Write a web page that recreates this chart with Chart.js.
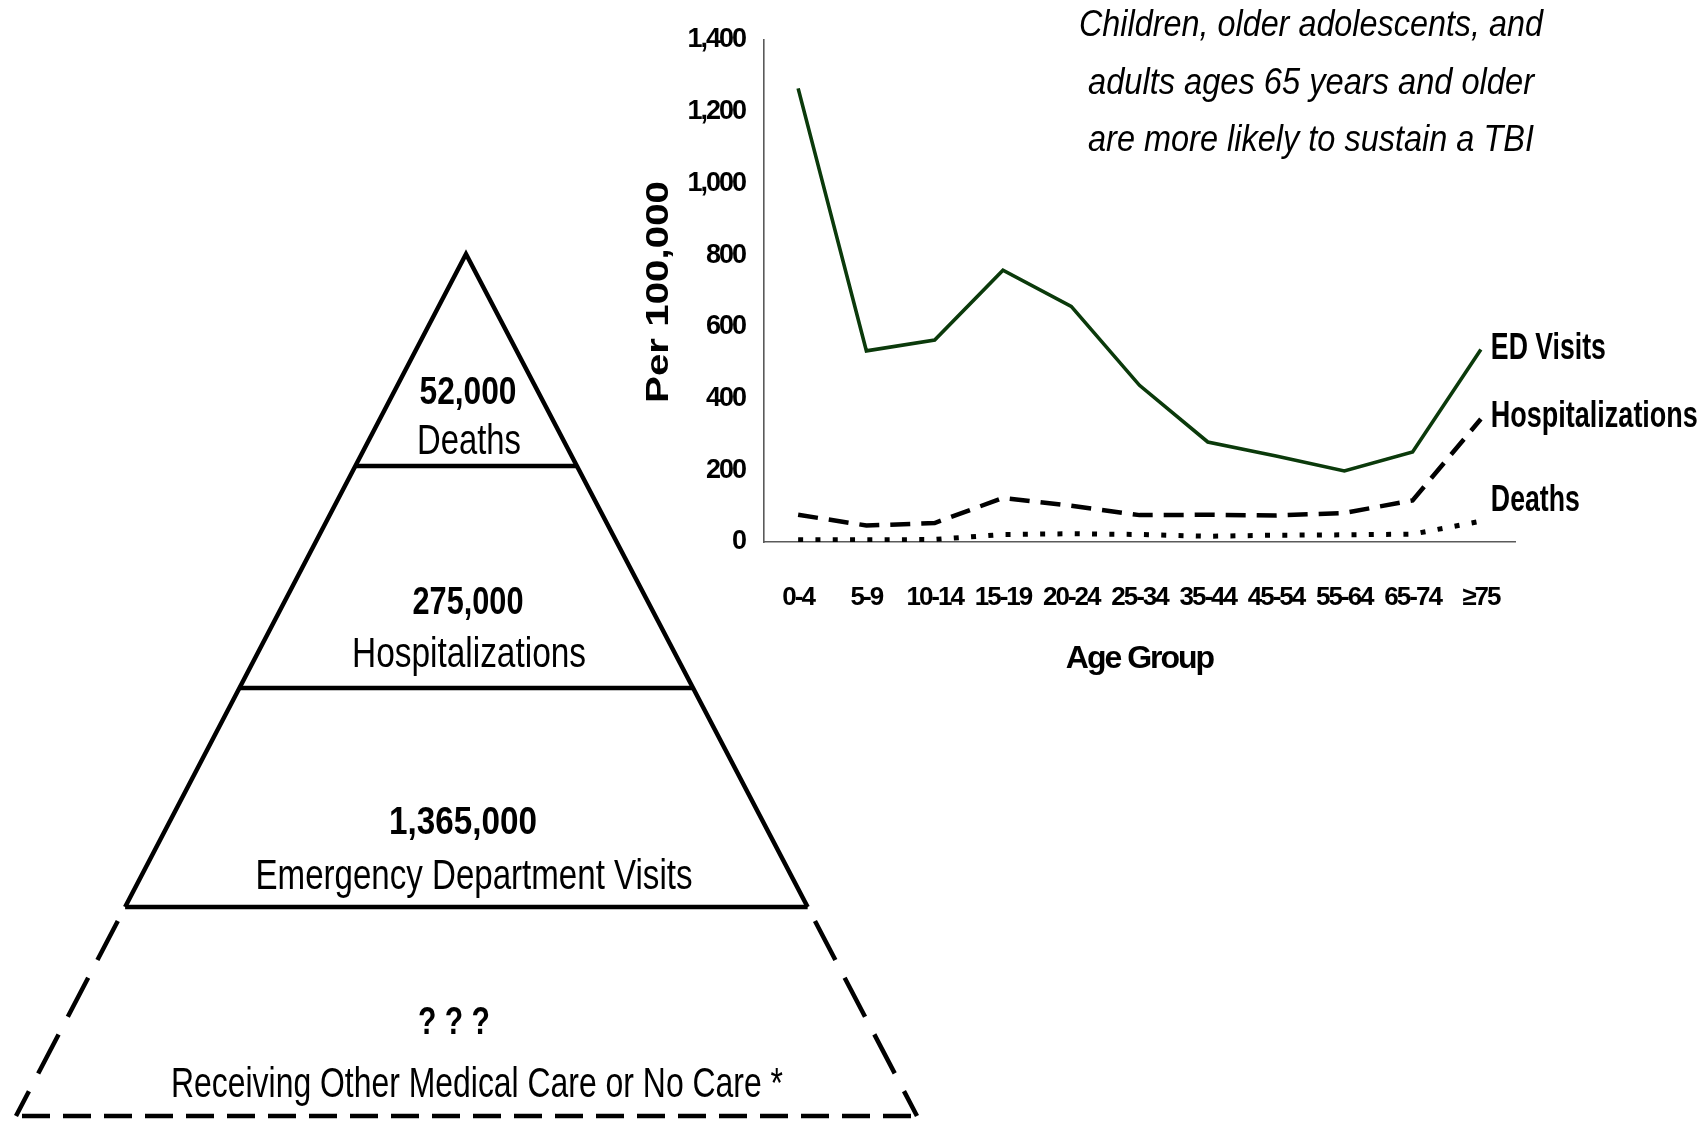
<!DOCTYPE html>
<html>
<head>
<meta charset="utf-8">
<title>Traumatic Brain Injury in the United States</title>
<script src="https://cdn.jsdelivr.net/npm/chart.js@4.4.1/dist/chart.umd.min.js"></script>
<style>
  html, body { margin: 0; padding: 0; background: #ffffff; }
  canvas { display: block; }
</style>
</head>
<body>
<canvas id="tbi" width="1707" height="1124"></canvas>
<script>
// Rates per 100,000 population by age group
const ageGroups = ['0-4', '5-9', '10-14', '15-19', '20-24', '25-34', '35-44', '45-54', '55-64', '65-74', '≥75'];
const edVisits = [1265, 533, 563, 758, 657, 437, 279, 240, 198, 251, 537];
const hospitalizations = [76, 46, 53, 123, 101, 75, 76, 74, 81, 116, 343];
const deaths = [6, 6, 7, 21, 23, 21, 16, 19, 20, 22, 58];
const seriesNames = ['ED Visits', 'Hospitalizations', 'Deaths'];

// Value axis
const yMin = 0;
const yMax = 1400;
const yStep = 200;
const yTitle = 'Per 100,000';
const xTitle = 'Age Group';

// Annual counts shown in the pyramid, top tier first
const tierCounts = ['52,000', '275,000', '1,365,000', '? ? ?'];
const tierNames = ['Deaths', 'Hospitalizations', 'Emergency Department Visits', 'Receiving Other Medical Care or No Care *'];

const noteLines = ['Children, older adolescents, and', 'adults ages 65 years and older', 'are more likely to sustain a TBI'];

const SANS = "'Liberation Sans', Arial, sans-serif";

// Draw a string centred (or left-aligned) on a point, squeezed horizontally to a given width
function fitText(ctx, s, x, y, font, width, align) {
  ctx.save();
  ctx.letterSpacing = '0px';
  ctx.font = font;
  const w = ctx.measureText(s).width;
  const sx = width ? width / w : 1;
  ctx.translate(x, y);
  ctx.scale(sx, 1);
  ctx.textAlign = align || 'center';
  ctx.textBaseline = 'middle';
  ctx.fillStyle = '#000';
  ctx.fillText(s, 0, 0);
  ctx.restore();
}

function drawPyramid(ctx) {
  const apex = { x: 466, y: 254 };
  const baseY = 1116, baseL = 16, baseR = 917;
  const cuts = [466, 688, 907];
  const xl = y => apex.x + (baseL - apex.x) * (y - apex.y) / (baseY - apex.y);
  const xr = y => apex.x + (baseR - apex.x) * (y - apex.y) / (baseY - apex.y);

  ctx.save();
  ctx.strokeStyle = '#000';
  ctx.lineWidth = 4.5;
  ctx.lineJoin = 'miter';
  ctx.lineCap = 'butt';

  // solid sides down to the emergency-department tier
  ctx.beginPath();
  ctx.moveTo(xl(cuts[2]), cuts[2]);
  ctx.lineTo(apex.x, apex.y);
  ctx.lineTo(xr(cuts[2]), cuts[2]);
  ctx.stroke();

  // tier dividers
  cuts.forEach(y => {
    ctx.beginPath();
    ctx.moveTo(xl(y), y);
    ctx.lineTo(xr(y), y);
    ctx.stroke();
  });

  // open-ended bottom tier
  ctx.setLineDash([44, 20]);
  ctx.beginPath();
  ctx.moveTo(xl(cuts[2] + 14), cuts[2] + 14);
  ctx.lineTo(baseL, baseY);
  ctx.stroke();
  ctx.beginPath();
  ctx.moveTo(xr(cuts[2] + 14), cuts[2] + 14);
  ctx.lineTo(baseR, baseY);
  ctx.stroke();
  ctx.setLineDash([28, 13]);
  ctx.beginPath();
  ctx.moveTo(baseL + 6, baseY);
  ctx.lineTo(baseR, baseY);
  ctx.stroke();
  ctx.restore();

  const countRows = [
    { x: 468, y: 394, w: 97 },
    { x: 468, y: 604, w: 111 },
    { x: 463, y: 824, w: 148 },
    { x: 454, y: 1024, w: 72 }
  ];
  const nameRows = [
    { x: 469, y: 442, w: 104 },
    { x: 469, y: 655, w: 234 },
    { x: 474, y: 877, w: 437 },
    { x: 477, y: 1085, w: 612 }
  ];
  tierCounts.forEach((s, i) => {
    const r = countRows[i];
    fitText(ctx, s, r.x, r.y, 'bold 38px ' + SANS, r.w);
  });
  tierNames.forEach((s, i) => {
    const r = nameRows[i];
    fitText(ctx, s, r.x, r.y, '42px ' + SANS, r.w);
  });
}

// Axis labels are set tight, the way a narrow face would set them
const tightLabels = {
  id: 'tightLabels',
  beforeDraw(chart) { chart.ctx.letterSpacing = '-2px'; },
  beforeDatasetsDraw(chart) { chart.ctx.letterSpacing = '0px'; }
};

const decorations = {
  id: 'decorations',
  afterDraw(chart) {
    const ctx = chart.ctx;
    const xs = chart.scales.x;
    const ys = chart.scales.y;

    // rotated value-axis title
    ctx.save();
    ctx.translate(659, 292);
    ctx.rotate(-Math.PI / 2);
    fitText(ctx, yTitle, 0, 0, 'bold 31px ' + SANS, 222);
    ctx.restore();

    // series names next to the last age group
    const lastIdx = ageGroups.length - 1;
    const lx = xs.getPixelForValue(lastIdx) + 10;
    const ends = [edVisits[lastIdx], hospitalizations[lastIdx], deaths[lastIdx]];
    const shifts = [0, -2, -20];
    const widths = [115, 207, 89];
    seriesNames.forEach((s, i) => {
      fitText(ctx, s, lx, ys.getPixelForValue(ends[i]) + shifts[i], 'bold 36px ' + SANS, widths[i], 'left');
    });

    // note in the upper right
    const noteY = [26, 84, 141];
    const noteW = [464, 446, 446];
    noteLines.forEach((s, i) => {
      fitText(ctx, s, 1311, noteY[i], 'italic 36px ' + SANS, noteW[i]);
    });

    drawPyramid(ctx);
  }
};

const axisBorder = { display: true, color: '#5a5a5a', width: 1.6 };

new Chart(document.getElementById('tbi'), {
  type: 'line',
  data: {
    labels: ageGroups,
    datasets: [
      { label: seriesNames[0], data: edVisits, borderColor: '#0b3a0b', borderWidth: 3.6, pointRadius: 0, tension: 0 },
      { label: seriesNames[1], data: hospitalizations, borderColor: '#000', borderWidth: 4.5, borderDash: [20, 11], pointRadius: 0, tension: 0 },
      { label: seriesNames[2], data: deaths, borderColor: '#000', borderWidth: 5, borderDash: [5, 12.3], pointRadius: 0, tension: 0 }
    ]
  },
  options: {
    responsive: false,
    devicePixelRatio: 1,
    animation: false,
    layout: { padding: { left: 664, right: 192, top: 40, bottom: 442 } },
    plugins: { legend: { display: false }, tooltip: { enabled: false }, title: { display: false } },
    scales: {
      x: {
        offset: true,
        grid: { display: false, drawTicks: false },
        border: axisBorder,
        ticks: { color: '#000', font: { family: SANS, size: 26, weight: 'bold' }, padding: 40, maxRotation: 0, autoSkip: false },
        title: { display: true, text: xTitle, color: '#000', font: { family: SANS, size: 32, weight: 'bold' }, padding: { top: 0, bottom: 4 } },
        afterFit(scale) { scale.height = 140; }
      },
      y: {
        min: yMin,
        max: yMax,
        grid: { display: false, drawTicks: false },
        border: axisBorder,
        ticks: { stepSize: yStep, color: '#000', font: { family: SANS, size: 27, weight: 'bold' }, padding: 19 },
        afterFit(scale) { scale.width = 100; }
      }
    }
  },
  plugins: [tightLabels, decorations]
});
</script>
</body>
</html>
